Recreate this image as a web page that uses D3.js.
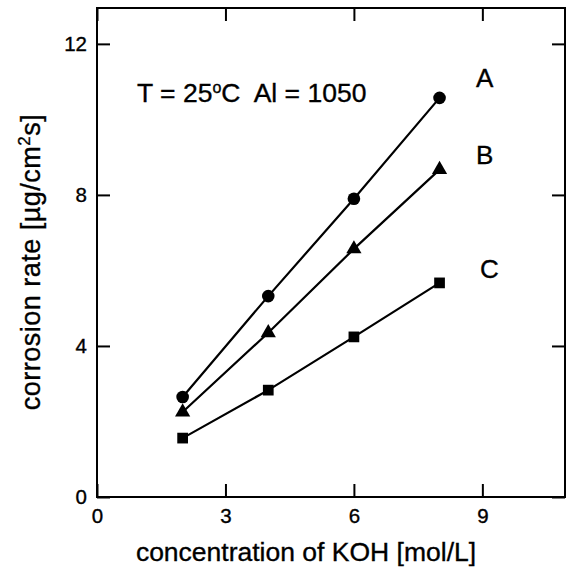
<!DOCTYPE html>
<html>
<head>
<meta charset="utf-8">
<script src="https://cdn.jsdelivr.net/npm/d3@7"></script>
<style>
  html, body { margin: 0; padding: 0; background: #fff; }
  svg { display: block; font-family: "Liberation Sans", Arial, Helvetica, sans-serif; }
  svg text { fill: #000; stroke: #000; stroke-width: 0.35; white-space: pre; }
  .axis path { display: none; }
  .axis line { stroke: #000; stroke-width: 2; }
  .axis text { font-size: 20.5px; }
</style>
</head>
<body>
<svg id="chart" width="568" height="569"></svg>
<script>
// KOH concentration (mol/L)
const concentration = [2, 4, 6, 8];

// corrosion rate (µg/cm²s) for each series
const seriesA = [2.65, 5.32, 7.90, 10.57];
const seriesB = [2.25, 4.35, 6.57, 8.67];
const seriesC = [1.56, 2.83, 4.24, 5.67];

const seriesNames = ["A", "B", "C"];
const seriesShapes = ["circle", "triangle", "square"];

const xTicks = [0, 3, 6, 9];
const yTicks = [0, 4, 8, 12];

const svg = d3.select("#chart");
const plotLeft = 97, plotRight = 565, plotTop = 8, plotBottom = 497;

const x = d3.scaleLinear().domain([0, 10.93]).range([plotLeft, plotRight]);
const y = d3.scaleLinear().domain([0, 12.95]).range([plotBottom, plotTop]);

// inward ticks on all four sides
svg.append("g").attr("class", "axis")
  .attr("transform", `translate(0,${plotBottom})`)
  .call(d3.axisBottom(x).tickValues(xTicks).tickSizeInner(-13).tickSizeOuter(0).tickPadding(11.5));
svg.append("g").attr("class", "axis")
  .attr("transform", `translate(0,${plotTop})`)
  .call(d3.axisTop(x).tickValues(xTicks).tickSizeInner(-13).tickSizeOuter(0).tickFormat(""));
svg.append("g").attr("class", "axis")
  .attr("transform", `translate(${plotLeft},0)`)
  .call(d3.axisLeft(y).tickValues(yTicks).tickSizeInner(-13).tickSizeOuter(0).tickPadding(10));
svg.append("g").attr("class", "axis")
  .attr("transform", `translate(${plotRight},0)`)
  .call(d3.axisRight(y).tickValues(yTicks).tickSizeInner(-13).tickSizeOuter(0).tickFormat(""));

// frame
svg.append("rect")
  .attr("x", plotLeft).attr("y", plotTop)
  .attr("width", plotRight - plotLeft).attr("height", plotBottom - plotTop)
  .attr("fill", "none").attr("stroke", "#000").attr("stroke-width", 2);

const series = [seriesA, seriesB, seriesC].map((vals, i) => ({
  name: seriesNames[i],
  shape: seriesShapes[i],
  points: concentration.map((c, j) => ({ c, v: vals[j] }))
}));

const line = d3.line().x(d => x(d.c)).y(d => y(d.v));
const symbolOf = {
  circle: d3.symbol().type(d3.symbolCircle).size(125),
  triangle: d3.symbol().type(d3.symbolTriangle).size(100),
  square: d3.symbol().type(d3.symbolSquare).size(115)
};

series.forEach(s => {
  svg.append("path")
    .datum(s.points)
    .attr("d", line)
    .attr("fill", "none")
    .attr("stroke", "#000")
    .attr("stroke-width", 2.2);
  svg.append("g").selectAll("path")
    .data(s.points)
    .join("path")
    .attr("transform", d => `translate(${x(d.c)},${y(d.v)})`)
    .attr("d", symbolOf[s.shape]())
    .attr("fill", "#000");
});

// series labels
const labelPos = [
  { name: "A", x: 476, y: 87 },
  { name: "B", x: 476, y: 164 },
  { name: "C", x: 480, y: 278 }
];
svg.append("g").selectAll("text")
  .data(labelPos)
  .join("text")
  .attr("x", d => d.x).attr("y", d => d.y)
  .attr("font-size", 26)
  .text(d => d.name);

// conditions note
const note = svg.append("text")
  .attr("x", 137).attr("y", 102)
  .attr("font-size", 26.5);
note.append("tspan").text("T = 25");
note.append("tspan").attr("font-size", 16).attr("dy", -9).text("o");
note.append("tspan").attr("dy", 9).text("C  Al = 1050");

// axis titles
svg.append("text")
  .attr("x", 306).attr("y", 561)
  .attr("text-anchor", "middle")
  .attr("font-size", 26.5)
  .text("concentration of KOH [mol/L]");

const yTitle = svg.append("text")
  .attr("transform", "translate(40,262) rotate(-90)")
  .attr("text-anchor", "middle")
  .attr("font-size", 27)
  .attr("letter-spacing", 0.5);
yTitle.append("tspan").text("corrosion rate [µg/cm");
yTitle.append("tspan").attr("font-size", 17).attr("dy", -10).text("2");
yTitle.append("tspan").attr("dy", 10).text("s]");
</script>
</body>
</html>
